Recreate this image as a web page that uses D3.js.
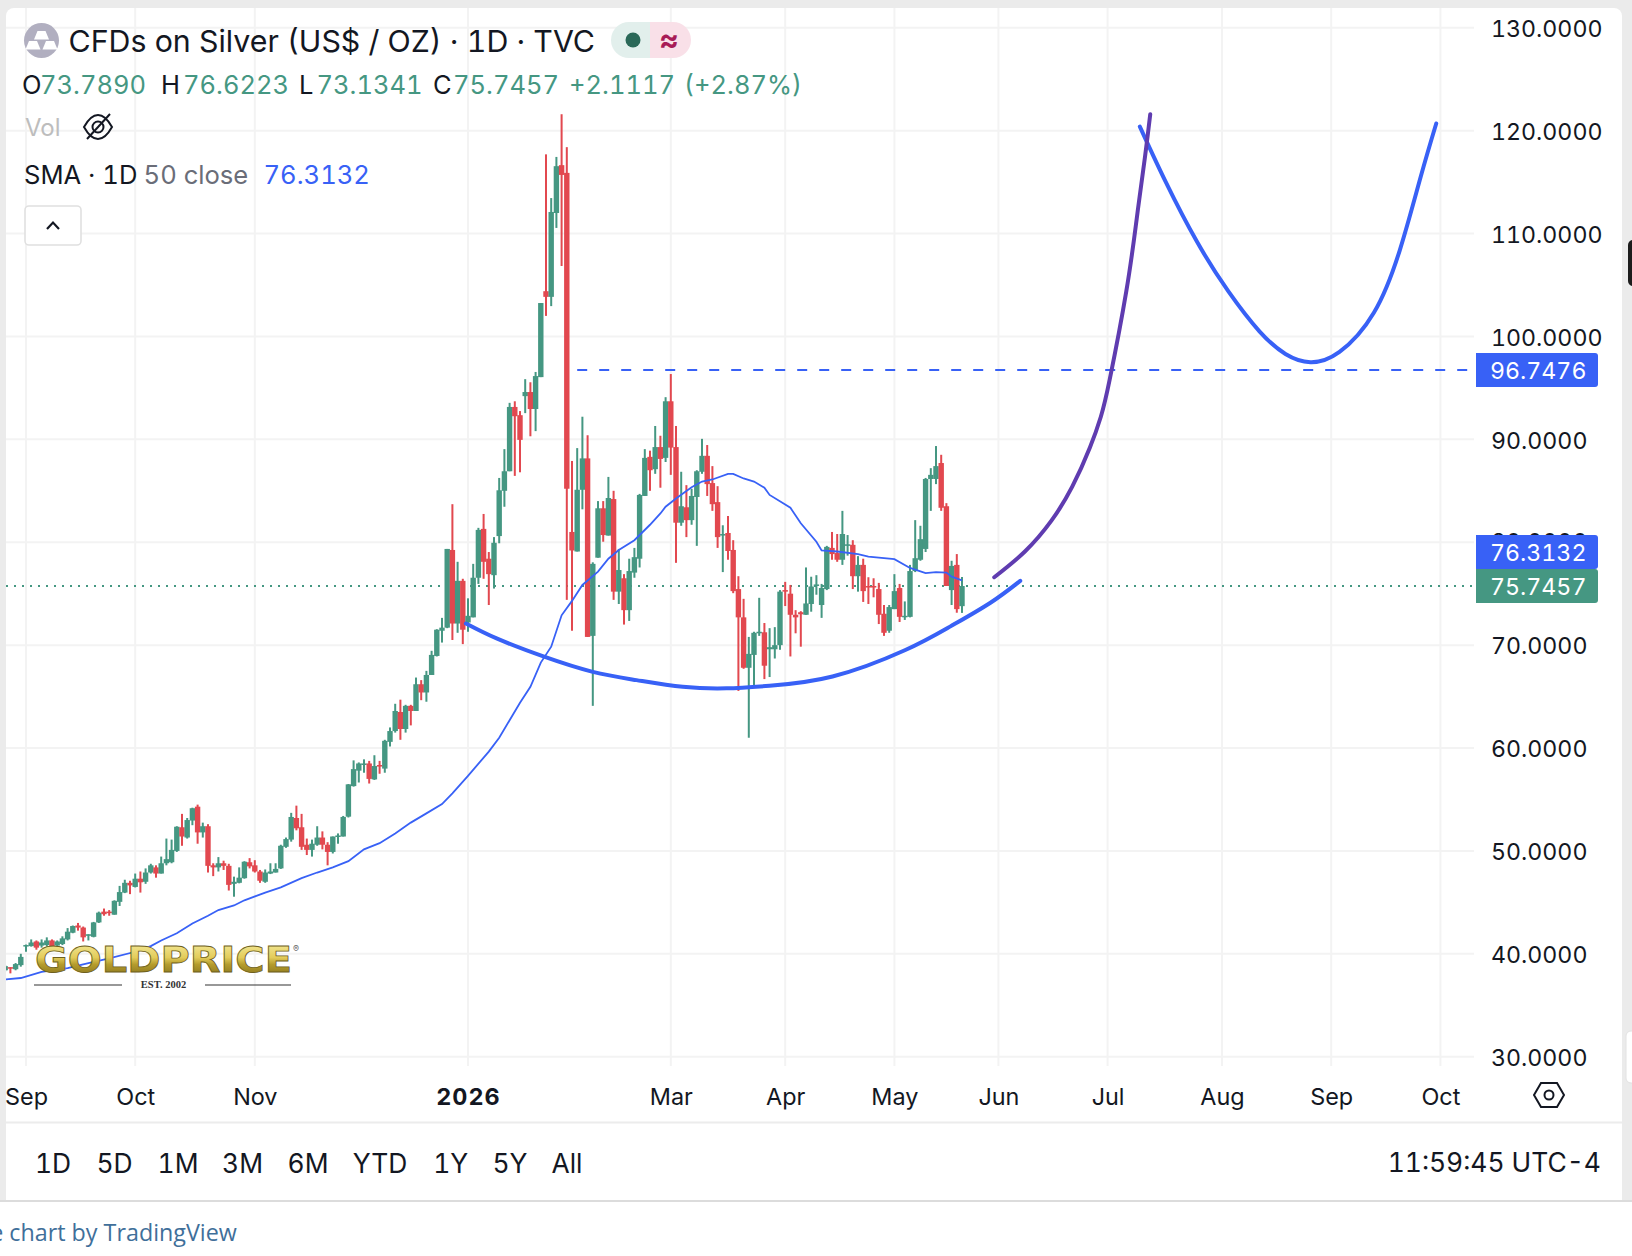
<!DOCTYPE html>
<html>
<head>
<meta charset="utf-8">
<script src="https://cdn.jsdelivr.net/npm/d3@7"></script>
<style>
  html, body { margin: 0; padding: 0; background: #fff; }
  svg { display: block; font-family: Inter, "Noto Sans", sans-serif; }
  text { font-feature-settings: "tnum"; }
</style>
</head>
<body>
<div id="chart"></div>
<script>
// daily bars, first one sits 4 sessions before the Sep tick
const firstBar = -4;
const opens = [38.4,38.7,38.5,38.9,
  40.75,40.75,41.2,40.8,40.85,41.3,40.8,40.95,41.4,42.05,
  42.75,42.55,41.75,41.65,43.05,44.1,44.1,43.8,45.05,45.95,
  46.9,46.5,47.3,47.0,47.9,48.4,47.8,48.8,48.9,50.0,
  52.3,51.3,52.95,54.3,51.8,52.4,48.6,48.4,48.8,48.55,
  46.8,46.9,47.35,48.9,48.6,48.0,47.0,47.8,47.9,48.3,
  50.4,51.1,53.2,52.3,50.6,50.1,50.6,51.3,50.6,49.9,
  51.4,51.4,53.33,56.3,57.8,58.4,58.5,56.95,58.35,58.0,
  60.6,61.65,63.5,61.85,64.1,63.6,66.2,65.4,67.1,68.95,
  71.4,71.7,79.25,72.1,76.25,72.2,72.7,76.55,81.3,78.4,
  76.8,80.6,85.0,86.9,93.15,92.35,94.2,94.6,92.95,96.05,
  104.4,103.85,112.0,116.65,115.9,81.0,79.1,85.1,88.15,70.9,
  78.5,83.3,80.65,84.2,75.2,76.5,73.4,77.05,78.4,84.5,
  88.3,87.1,89.25,88.2,93.7,89.25,81.9,83.4,82.15,84.4,
  86.85,88.4,85.75,83.9,80.65,80.9,79.25,75.45,72.7,67.8,
  69.05,71.15,71.25,69.6,69.6,70.0,75.35,75.0,72.95,73.2,
  72.95,74.0,75.75,73.9,75.45,79.45,78.95,78.3,79.65,79.75,
  76.7,77.8,75.75,75.75,75.45,73.05,71.4,73.5,75.55,72.75,
  72.75,77.2,78.3,79.35,86.15,86.15,87.7,83.5,75.35,77.8,
  73.789];
const highs = [38.9,38.7,39.1,40.0,
  40.9,41.4,41.3,41.4,41.6,41.4,41.3,41.7,42.5,42.75,
  43.0,42.65,41.9,43.1,44.1,44.4,44.25,45.2,46.6,47.2,
  47.1,47.8,48.0,48.3,48.75,48.6,49.45,51.2,51.1,52.4,
  53.6,53.2,54.2,54.5,52.75,52.6,48.8,49.4,49.05,48.75,
  47.5,48.4,49.0,49.3,49.1,48.15,48.2,48.8,48.8,50.6,
  51.3,53.7,54.4,53.6,51.2,51.1,52.4,51.9,50.85,51.4,
  51.7,53.4,56.5,58.8,58.6,58.9,58.75,59.3,58.75,60.8,
  62.0,64.3,64.7,64.2,64.2,66.85,66.6,67.5,69.45,71.55,
  72.65,79.35,83.7,78.1,76.45,74.55,77.9,81.4,82.75,79.05,
  80.5,86.25,89.05,93.55,93.7,92.75,95.85,95.55,96.55,103.25,
  117.7,113.45,117.45,121.6,118.4,87.9,89.15,92.2,90.4,78.05,
  84.0,84.0,86.35,85.0,79.35,76.9,78.4,79.45,84.7,89.05,
  88.9,91.3,90.35,94.1,96.35,91.3,86.85,85.55,85.2,87.0,
  90.05,89.45,87.4,85.45,81.65,82.55,80.2,76.7,74.5,70.8,
  71.3,74.6,72.15,71.65,71.75,75.35,76.15,75.85,73.4,73.3,
  77.55,76.65,76.8,75.95,79.65,81.0,80.8,83.05,80.7,80.2,
  78.65,78.4,76.6,76.5,76.05,73.9,73.9,76.9,75.95,74.25,
  77.8,82.15,81.6,86.25,87.2,89.35,88.5,83.8,78.2,78.85,
  76.6223];
const lows = [38.3,38.1,38.4,38.75,
  40.2,40.7,40.4,40.6,40.7,40.7,40.6,40.85,41.3,42.0,
  42.25,41.2,41.3,41.6,43.0,43.7,43.7,43.8,44.65,45.9,
  45.8,46.45,45.95,46.8,47.8,47.4,47.8,48.6,48.8,49.9,
  50.5,51.2,52.5,50.7,51.3,47.9,47.55,48.0,48.15,46.15,
  45.55,46.85,47.3,48.3,47.9,46.9,46.9,47.75,47.9,48.25,
  50.3,50.9,52.0,50.1,49.6,49.45,50.5,50.15,48.6,49.75,
  50.7,51.4,53.25,56.25,56.65,57.6,56.55,56.9,57.5,57.6,
  60.15,61.5,60.8,61.5,62.2,63.6,64.65,64.5,67.1,68.9,
  70.25,71.65,70.5,71.2,70.1,71.3,72.7,75.95,76.45,73.9,
  75.5,79.9,83.45,86.9,86.45,86.8,92.55,90.3,90.8,96.05,
  102.0,102.95,110.55,106.85,74.4,71.4,79.1,83.2,70.8,64.1,
  78.5,80.05,80.65,74.4,74.0,72.0,72.35,76.55,77.55,84.5,
  85.0,86.65,85.3,87.8,86.55,78.0,81.6,80.5,81.7,79.65,
  86.65,84.5,83.05,79.45,77.1,78.3,75.05,65.55,67.7,61.0,
  66.0,70.9,66.7,66.9,68.7,69.55,73.8,68.9,71.15,69.85,
  72.95,73.25,74.9,72.65,75.35,78.3,78.1,77.8,78.7,75.45,
  75.2,74.2,74.0,74.65,72.05,70.9,71.2,73.5,72.25,72.45,
  72.7,77.1,78.2,79.05,83.05,85.65,83.05,75.75,73.9,73.15,
  73.1341];
const closes = [38.8,38.6,39.0,39.7,
  40.85,41.1,40.6,41.1,41.3,40.75,41.2,41.5,42.15,42.7,
  42.55,41.6,41.9,43.05,44.0,43.85,43.95,45.15,46.0,46.9,
  46.65,47.3,46.95,47.9,48.6,47.8,48.8,49.2,50.1,52.35,
  51.4,53.0,54.15,51.8,52.4,48.55,48.4,48.8,48.55,46.7,
  47.0,47.4,48.95,48.5,48.0,47.1,47.9,48.0,48.25,50.5,
  51.15,53.3,52.2,50.4,50.1,50.7,51.3,50.6,49.9,51.4,
  51.5,53.3,56.47,57.95,58.5,58.5,57.0,58.25,58.2,60.7,
  61.65,63.6,61.85,64.1,63.6,66.2,65.4,67.1,69.05,71.5,
  71.7,79.35,72.1,76.25,71.5,72.85,76.55,81.2,78.1,76.9,
  79.95,85.05,86.9,93.15,92.25,89.95,94.6,92.95,96.15,103.25,
  103.85,112.1,116.55,115.7,85.2,79.2,85.1,88.15,70.8,77.9,
  83.3,80.7,84.3,75.2,77.3,73.4,77.2,78.55,84.6,88.2,
  87.0,89.25,88.1,93.7,89.2,81.9,83.5,82.15,84.5,86.9,
  88.4,85.65,83.7,80.5,80.8,79.15,75.25,72.7,67.8,69.15,
  71.2,71.3,68.0,69.8,70.0,75.2,75.2,72.95,72.7,73.0,
  74.05,75.7,75.9,75.55,79.55,78.85,78.3,80.8,79.8,76.7,
  77.8,75.25,75.6,75.6,72.95,71.2,73.7,75.25,72.75,72.85,
  77.2,78.45,80.3,86.15,86.55,87.4,83.35,75.75,77.7,73.5,
  75.7457];

// 50 day SMA at these bars
const smaBars = [-4,-1,3,8,12,16,21,24,26,29,32,35,37,40,42,46,49,53,56,59,62,65,68,71,74,77,80,82,85,89,91,93,95,97,99,101,103,105,107,110,112,114,117,120,122,123,125,128,130,132,135,136,138,140,142,143,147,149,152,153,156,160,162,167,170,173,175,177,178,180];
const smaVals = [37.5,37.65,38.25,38.6,39.1,39.55,40.2,40.75,41.3,42.0,42.95,43.7,44.25,44.7,45.2,45.95,46.45,47.35,47.9,48.4,49.0,50.15,50.75,51.7,52.75,53.65,54.55,55.6,57.3,59.65,61.0,62.7,64.4,65.95,68.3,69.85,72.9,74.3,75.85,77.15,78.4,79.25,80.2,81.7,82.8,83.45,84.25,85.35,85.9,86.1,86.65,86.65,86.2,85.9,85.3,84.6,83.35,81.85,80.05,79.2,79.1,78.85,78.6,78.35,77.5,77.0,77.1,77.05,76.65,76.3];

// hand drawn lines on top of the chart
const cupBars = [84.6,90.5,99.5,109,117.4,126.3,134.75,143,155.1,169,177.7,185.4,191.2];
const cupVals = [72.1,70.65,68.9,67.4,66.6,65.95,65.8,66.05,66.95,69.5,71.8,74.1,76.25];
const riseBars = [186.2,192.1,197.2,201.2,204.6,206.7,208.4,211.6,213.6,215.2,216.2];
const riseVals = [76.6,79.1,82.1,85.4,89.2,92.2,95.8,104.4,111.45,117.5,121.6];
const handleBars = [214.2,219.2,225.2,231.2,237.2,242.2,247,252.6,259.2,264.2,268.2,271.2];
const handleVals = [120.4,115.0,109.2,104.4,100.5,98.3,97.5,98.5,102.3,108.4,115.5,120.7];
const levelStartBar = 106;
const levelValue = 96.7476;
const lastClose = 75.7457;
const lastSma = 76.3132;

const priceTicks = [30,40,50,60,70,80,90,100,110,120,130];
const monthBars = [0,21,44,85,124,146,167,187,208,230,251,272];
const monthLabels = ["Sep","Oct","Nov","2026","Mar","Apr","May","Jun","Jul","Aug","Sep","Oct"];
const ranges = ["1D","5D","1M","3M","6M","YTD","1Y","5Y","All"];
const rangeCentres = [53,114.5,178,242.5,308,380,450.7,510,567];

const WIDTH = 1632, HEIGHT = 1256;
const GREEN = "#459782", RED = "#e2484f", BLUE = "#3861f6", INK = "#131722";
const chartRight = 1474, chartBottom = 1066, panelLeft = 6, panelRight = 1622, panelBottom = 1201;

const x = d3.scaleLinear().domain([0, 272]).range([26, 1440.4]);
const y = d3.scaleLinear().domain([30, 130]).range([1056.7, 27.8]);

const svg = d3.select("#chart").append("svg").attr("width", WIDTH).attr("height", HEIGHT);
const defs = svg.append("defs");

// frame
svg.append("rect").attr("width", WIDTH).attr("height", panelBottom).attr("fill", "#ebebeb");
svg.append("rect").attr("x", panelLeft).attr("y", 8).attr("width", panelRight - panelLeft)
  .attr("height", panelBottom - 8).attr("rx", 8).attr("fill", "#fff");
svg.append("rect").attr("x", panelLeft).attr("y", 100).attr("width", panelRight - panelLeft)
  .attr("height", panelBottom - 100).attr("fill", "#fff");
svg.append("rect").attr("y", panelBottom).attr("width", WIDTH).attr("height", HEIGHT - panelBottom).attr("fill", "#fff");
svg.append("line").attr("x1", 0).attr("x2", WIDTH).attr("y1", panelBottom).attr("y2", panelBottom)
  .attr("stroke", "#dcdcdc").attr("stroke-width", 2);
svg.append("line").attr("x1", panelLeft).attr("x2", panelRight).attr("y1", 1122.5).attr("y2", 1122.5)
  .attr("stroke", "#ececec").attr("stroke-width", 2);
// side handles of the page behind
svg.append("rect").attr("x", 1626).attr("y", 1031).attr("width", 12).attr("height", 52).attr("rx", 5)
  .attr("fill", "#fff").attr("stroke", "#e2e2e2");
svg.append("rect").attr("x", 1628).attr("y", 240).attr("width", 10).attr("height", 46).attr("rx", 5)
  .attr("fill", "#1c1c1c");

defs.append("clipPath").attr("id", "plot").append("rect")
  .attr("x", panelLeft).attr("y", 8).attr("width", chartRight - panelLeft).attr("height", chartBottom - 8);

// grid
const grid = svg.append("g").attr("stroke", "#f3f3f3").attr("stroke-width", 2);
grid.selectAll(".h").data(priceTicks).join("line").attr("class", "h")
  .attr("x1", panelLeft).attr("x2", chartRight).attr("y1", d => y(d)).attr("y2", d => y(d));
grid.selectAll(".v").data(monthBars).join("line").attr("class", "v")
  .attr("x1", d => x(d)).attr("x2", d => x(d)).attr("y1", 8).attr("y2", chartBottom);

const plot = svg.append("g").attr("clip-path", "url(#plot)");

// last price line goes under the bars
plot.append("line").attr("x1", panelLeft).attr("x2", chartRight)
  .attr("y1", y(lastClose)).attr("y2", y(lastClose))
  .attr("stroke", GREEN).attr("stroke-width", 2).attr("stroke-dasharray", "2 6");

// candles
const bars = opens.map((o, i) => ({ bar: firstBar + i, o: o, h: highs[i], l: lows[i], c: closes[i] }));
const candle = plot.selectAll(".candle").data(bars).join("g").attr("class", "candle")
  .attr("fill", d => d.c >= d.o ? GREEN : RED);
candle.append("rect").attr("x", d => x(d.bar) - 1).attr("width", 2)
  .attr("y", d => y(d.h)).attr("height", d => y(d.l) - y(d.h));
candle.append("rect").attr("x", d => x(d.bar) - 2.7).attr("width", 5.4)
  .attr("y", d => y(Math.max(d.o, d.c)))
  .attr("height", d => Math.max(1.5, Math.abs(y(d.o) - y(d.c))));

// SMA and drawings
const straight = d3.line().x(d => x(d[0])).y(d => y(d[1]));
const smooth = d3.line().x(d => x(d[0])).y(d => y(d[1])).curve(d3.curveNatural);

plot.append("path").datum(d3.zip(smaBars, smaVals)).attr("d", straight)
  .attr("fill", "none").attr("stroke", BLUE).attr("stroke-width", 1.8);
plot.append("line").attr("x1", x(levelStartBar)).attr("x2", chartRight - 6)
  .attr("y1", y(levelValue)).attr("y2", y(levelValue))
  .attr("stroke", BLUE).attr("stroke-width", 2).attr("stroke-dasharray", "10 12");
plot.append("path").datum(d3.zip(cupBars, cupVals)).attr("d", smooth)
  .attr("fill", "none").attr("stroke", BLUE).attr("stroke-width", 4).attr("stroke-linecap", "round");
plot.append("path").datum(d3.zip(handleBars, handleVals)).attr("d", smooth)
  .attr("fill", "none").attr("stroke", BLUE).attr("stroke-width", 4).attr("stroke-linecap", "round");
plot.append("path").datum(d3.zip(riseBars, riseVals)).attr("d", smooth)
  .attr("fill", "none").attr("stroke", "#5f3cb0").attr("stroke-width", 4).attr("stroke-linecap", "round");

// price axis
const priceAxis = svg.append("g").attr("transform", "translate(1491,0)")
  .call(d3.axisRight(y).tickValues(priceTicks).tickFormat(d3.format(".4f")).tickSize(0).tickPadding(0));
priceAxis.select(".domain").remove();
// the 80 label only peeks out above the SMA badge
priceAxis.selectAll("text").attr("font-size", 23.2).attr("fill", INK).attr("font-family", "Inter")
  .attr("dy", d => d === 80 ? ".3em" : ".38em");

// price badges
const badges = [[levelValue, BLUE, 353], [lastSma, BLUE, 535], [lastClose, GREEN, 569]];
badges.forEach(b => {
  svg.append("path")
    .attr("d", `M1476,${b[2]}H1595a3,3 0 0 1 3,3V${b[2] + 31}a3,3 0 0 1 -3,3H1476Z`)
    .attr("fill", b[1]);
  svg.append("text").attr("x", 1490).attr("y", b[2] + 18).attr("dy", ".35em")
    .attr("font-size", 23.2).attr("fill", "#fff").text(d3.format(".4f")(b[0]));
});

// time axis
const timeAxis = svg.append("g").attr("transform", "translate(0,1088)")
  .call(d3.axisBottom(x).tickValues(monthBars).tickFormat((d, i) => monthLabels[i]).tickSize(0).tickPadding(0));
timeAxis.select(".domain").remove();
timeAxis.selectAll("text").attr("font-size", 23.4).attr("fill", INK).attr("font-family", "Inter")
  .attr("font-weight", (d, i) => monthLabels[i] === "2026" ? 700 : 400)
  .attr("letter-spacing", (d, i) => monthLabels[i] === "2026" ? 1 : 0);

// settings hexagon
svg.append("path").attr("d", "M1534,1095L1541,1083H1557L1564,1095L1557,1107H1541Z")
  .attr("fill", "none").attr("stroke", INK).attr("stroke-width", 2);
svg.append("circle").attr("cx", 1549).attr("cy", 1095).attr("r", 4.5)
  .attr("fill", "none").attr("stroke", INK).attr("stroke-width", 2);

// range bar
svg.selectAll(".range").data(ranges).join("text").attr("class", "range")
  .attr("x", (d, i) => rangeCentres[i]).attr("y", 1173).attr("text-anchor", "middle")
  .attr("font-size", 26.4).attr("fill", INK).text(d => d);
svg.append("text").attr("x", 1601).attr("y", 1172).attr("text-anchor", "end")
  .attr("font-size", 26.4).attr("fill", INK).text("11:59:45 UTC-4");

svg.append("text").attr("x", -9.8).attr("y", 1241).attr("font-family", "Open Sans")
  .attr("font-size", 23.3).attr("fill", "#3f6f9a").text("e chart by TradingView");

// header: symbol icon
svg.append("circle").attr("cx", 41.5).attr("cy", 40.5).attr("r", 17.5).attr("fill", "#b1afc0");
[[41.5, 31], [33, 41], [50, 41]].forEach(p => {
  svg.append("path").attr("d", `M${p[0] - 4},${p[1]}h8l3.5,8.5h-15Z`).attr("fill", "#fff");
});
svg.append("text").attr("x", 68.5).attr("y", 52).attr("font-size", 30.35).attr("fill", INK)
  .text("CFDs on Silver (US$ / OZ) · 1D · TVC");

// market status pill
svg.append("path").attr("d", "M650,22H629a18,18 0 0 0 0,36H650Z").attr("fill", "#e2efec");
svg.append("path").attr("d", "M650,22H673a18,18 0 0 1 0,36H650Z").attr("fill", "#f9e0e8");
svg.append("circle").attr("cx", 633).attr("cy", 40).attr("r", 7.5).attr("fill", "#2a6858");
svg.append("text").attr("x", 669).attr("y", 50).attr("text-anchor", "middle").attr("font-size", 30)
  .attr("font-weight", 700).attr("fill", "#a81c57").text("≈");

// OHLC row
const ohlcText = ["O", "73.7890", "H", "76.6223", "L", "73.1341", "C", "75.7457", "+2.1117", "(+2.87%)"];
const ohlcLeft = [22, 40, 161, 183, 299, 316.5, 433, 453, 569, 684];
svg.selectAll(".ohlc").data(ohlcText).join("text").attr("class", "ohlc")
  .attr("x", (d, i) => ohlcLeft[i]).attr("y", 93.5).attr("font-size", 25.5)
  .attr("fill", d => /^[OHLC]$/.test(d) ? INK : GREEN).text(d => d);

// Vol row
svg.append("text").attr("x", 25).attr("y", 136).attr("font-size", 24).attr("fill", "#bdbdbd").text("Vol");
svg.append("path").attr("d", "M84,127C89,118 93,115 98,115C103,115 107,118 112,127C107,136 103,139 98,139C93,139 89,136 84,127Z")
  .attr("fill", "none").attr("stroke", INK).attr("stroke-width", 2);
svg.append("circle").attr("cx", 98).attr("cy", 127).attr("r", 5.5).attr("fill", "none").attr("stroke", INK).attr("stroke-width", 2);
svg.append("line").attr("x1", 87).attr("y1", 139).attr("x2", 110).attr("y2", 114)
  .attr("stroke", INK).attr("stroke-width", 2);

// SMA row
const smaText = ["SMA · 1D", "50 close", "76.3132"];
const smaLeft = [24, 143.6, 263.5];
const smaFill = [INK, "#6a6d78", BLUE];
svg.selectAll(".smaRow").data(smaText).join("text").attr("class", "smaRow")
  .attr("x", (d, i) => smaLeft[i]).attr("y", 184).attr("font-size", 25.6)
  .attr("fill", (d, i) => smaFill[i]).text(d => d);

// collapse button
svg.append("rect").attr("x", 25).attr("y", 206).attr("width", 56).attr("height", 39).attr("rx", 4)
  .attr("fill", "#fff").attr("stroke", "#e0e0e0").attr("stroke-width", 1.6);
svg.append("path").attr("d", "M47,229L53,222.5L59,229").attr("fill", "none").attr("stroke", INK).attr("stroke-width", 2.2);

// watermark
const gold = defs.append("linearGradient").attr("id", "gold").attr("x1", 0).attr("x2", 0).attr("y1", 0).attr("y2", 1);
[[0, "#f7efa6"], [0.45, "#e3cc5a"], [0.62, "#b59c2c"], [1, "#7a671a"]].forEach(s => {
  gold.append("stop").attr("offset", s[0]).attr("stop-color", s[1]);
});
svg.append("text").attr("x", 35).attr("y", 972).attr("font-family", "DejaVu Sans").attr("font-weight", 700)
  .attr("font-size", 36).attr("textLength", 257).attr("lengthAdjust", "spacingAndGlyphs")
  .attr("fill", "url(#gold)").attr("stroke", "#6e5f1c").attr("stroke-width", 0.8).text("GOLDPRICE");
svg.append("text").attr("x", 293).attr("y", 952).attr("font-size", 9).attr("fill", "#666").text("®");
svg.append("text").attr("x", 163.5).attr("y", 988).attr("text-anchor", "middle")
  .attr("font-family", "Liberation Serif").attr("font-weight", 700).attr("font-size", 10.5).attr("fill", "#333").text("EST. 2002");
[[34, 122], [205, 291]].forEach(r => {
  svg.append("line").attr("x1", r[0]).attr("x2", r[1]).attr("y1", 985).attr("y2", 985)
    .attr("stroke", "#333").attr("stroke-width", 1.2);
});
</script>
</body>
</html>
